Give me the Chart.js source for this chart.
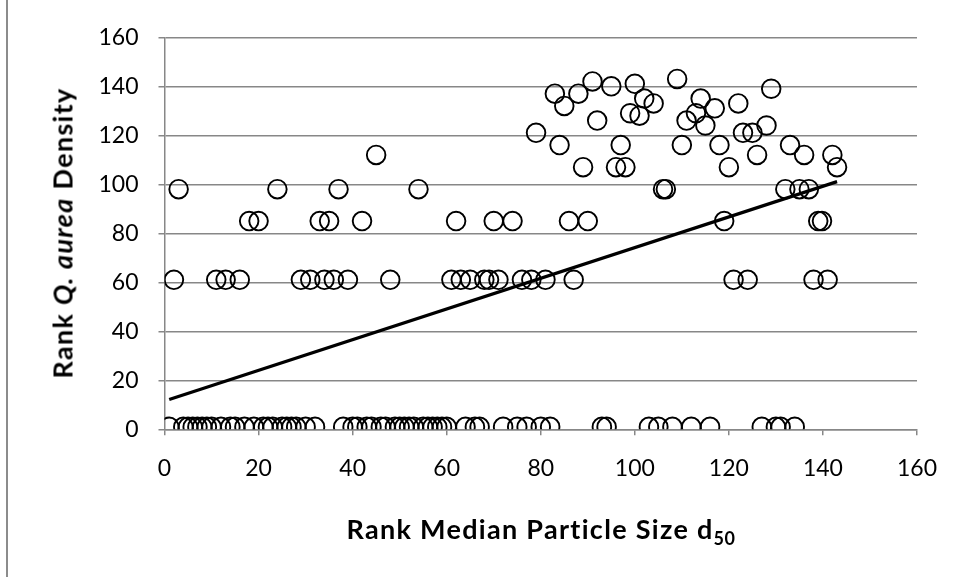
<!DOCTYPE html>
<html>
<head>
<meta charset="utf-8">
<script src="https://cdn.jsdelivr.net/npm/chart.js@4.4.0/dist/chart.umd.min.js"></script>
<style>
  html, body { margin: 0; padding: 0; background: #fff; }
  #wrap { position: relative; width: 957px; height: 577px; background: #fff; overflow: hidden; }
  #c { position: absolute; left: 0; top: 0; }
  #frame { position: absolute; left: 6px; top: 0; width: 2px; height: 577px; background: #8c8c8c; }
  .ttl { position: absolute; font-family: Lato, "Open Sans", sans-serif; font-weight: bold; font-size: 27px; letter-spacing: 1.3px; color: #000; white-space: nowrap; line-height: 1; }
  #ytitle { left: 62px; top: 233px; transform: translate(-50%, -50%) rotate(-90deg); }
  #xtitle { left: 541px; top: 528px; transform: translate(-50%, -50%); }
  sub { font-size: 18px; vertical-align: -6px; line-height: 0; letter-spacing: 0.5px; }
</style>
</head>
<body>
<div id="wrap">
  <canvas id="c" width="957" height="577"></canvas>
  <div id="frame"></div>
  <div id="ytitle" class="ttl">Rank <i>Q. aurea</i> Density</div>
  <div id="xtitle" class="ttl">Rank Median Particle Size d<sub>50</sub></div>
</div>
<script>
// Points sitting on the lowest rank (tied zero density)
const bottomX = [1, 4, 5, 6, 7, 8, 9, 10, 12, 14, 15, 17, 19, 21, 22, 23, 25, 26, 27, 28, 30, 32,
  38, 40, 41, 43, 44, 46, 47, 49, 50, 51, 52, 53, 55, 56, 57, 58, 59, 60, 64, 66, 67,
  72, 75, 77, 80, 82, 93, 94, 103, 105, 108, 112, 116, 127, 130, 131, 134];
const bottomY = 1;

// Remaining points
const upperX = [2, 3, 11, 13, 16, 18, 20, 24, 29, 31, 33, 34, 35, 36, 37, 39, 42, 45, 48, 54,
  61, 62, 63, 65, 68, 69, 70, 71, 74, 76, 78, 79, 81, 83, 84, 85, 86, 87, 88, 89, 90, 91, 92,
  95, 96, 97, 98, 99, 100, 101, 102, 104, 106, 106.6, 109, 110, 111, 113, 114, 115, 117, 118,
  119, 120, 121, 122, 123, 124, 125, 126, 128, 129, 132, 133, 135, 136, 137, 138, 139, 139.8,
  141, 142, 143];
const upperY = [61, 98, 61, 61, 61, 85, 85, 98, 61, 61, 85, 61, 85, 61, 98, 61, 85, 112, 61, 98,
  61, 85, 61, 61, 61, 61, 85, 61, 85, 61, 61, 121, 61, 137, 116, 132, 85, 61, 137, 107, 85, 142, 126,
  140, 107, 116, 107, 129, 141, 128, 135, 133, 98, 98, 143, 116, 126, 129, 135, 124, 131, 116,
  85, 107, 61, 133, 121, 61, 121, 112, 124, 139, 98, 116, 98, 112, 98, 61, 85, 85,
  61, 112, 107];

// Linear trend line end points
const trendX = [1, 143];
const trendY = [12.2, 101.1];

const axisMin = 0, axisMax = 160, axisStep = 20;

const points = bottomX.map(x => ({ x: x, y: bottomY }))
  .concat(upperX.map((x, i) => ({ x: x, y: upperY[i] })));
const trend = trendX.map((x, i) => ({ x: x, y: trendY[i] }));

const gridCol = '#878787';
const tickFont = { family: 'Lato, "Open Sans", sans-serif', size: 23 };

new Chart(document.getElementById('c').getContext('2d'), {
  type: 'scatter',
  data: {
    datasets: [
      {
        type: 'line', label: 'Trend', data: trend, showLine: true,
        borderColor: '#000', borderWidth: 3.2, pointRadius: 0, fill: false, order: 0
      },
      {
        label: 'Rank', data: points, pointStyle: 'circle', pointRadius: 9.3,
        borderColor: '#000', borderWidth: 1.9, backgroundColor: 'rgba(0,0,0,0)', order: 1
      }
    ]
  },
  options: {
    responsive: false, animation: false, devicePixelRatio: 1,
    layout: { padding: { left: 90, top: 37.3, right: 40, bottom: 0 } },
    plugins: { legend: { display: false }, tooltip: { enabled: false } },
    scales: {
      x: {
        type: 'linear', min: axisMin, max: axisMax,
        ticks: { stepSize: axisStep, color: '#000', font: tickFont, padding: 19, maxRotation: 0 },
        grid: { drawOnChartArea: false, drawTicks: true, tickLength: 6, color: gridCol, lineWidth: 1.5 },
        border: { color: gridCol, width: 1.5 },
        afterFit: s => { s.height = 147.7; }
      },
      y: {
        type: 'linear', min: axisMin, max: axisMax,
        ticks: { stepSize: axisStep, color: '#000', font: tickFont, padding: 20 },
        grid: { drawTicks: true, tickLength: 6, color: gridCol, lineWidth: 1.5 },
        border: { color: gridCol, width: 1.5 },
        afterFit: s => { s.width = 74.5; }
      }
    }
  }
});
</script>
</body>
</html>
